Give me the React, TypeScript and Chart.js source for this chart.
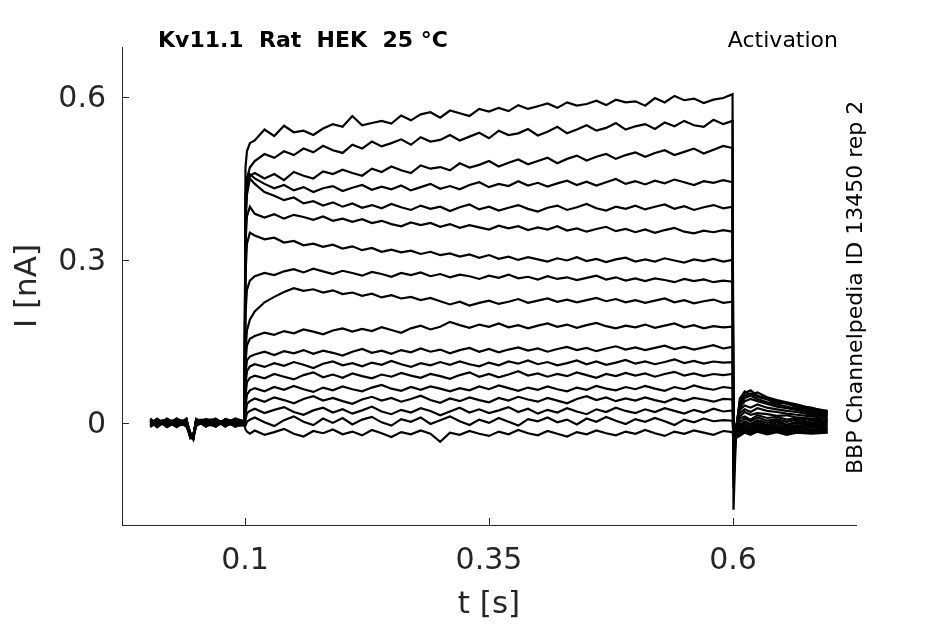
import React, { useEffect, useRef } from "react";
import { Chart, registerables } from "chart.js";

Chart.register(...registerables);

// ---- axis / text content ----
const X_TICKS = [0.1, 0.35, 0.6];
const X_TICK_LABELS = ["0.1", "0.35", "0.6"];
const Y_TICKS = [0, 0.3, 0.6];
const Y_TICK_LABELS = ["0", "0.3", "0.6"];
const X_MIN = -0.026;
const X_MAX = 0.726;
const Y_MIN = -0.188;
const Y_MAX = 0.692;
const TITLE = "Kv11.1  Rat  HEK  25 °C";
const PROTOCOL = "Activation";
const SOURCE = "BBP Channelpedia ID 13450 rep 2";
const X_LABEL = "t [s]";
const Y_LABEL = "I [nA]";

// ---- time bases (s) ----
const T_PRE = [0.003, 0.01, 0.02, 0.03, 0.04, 0.044, 0.047, 0.05, 0.06, 0.07, 0.08, 0.09, 0.0995];
const T_STEP = [
  0.1005, 0.102, 0.105,
  0.11, 0.12, 0.13, 0.14, 0.15, 0.16, 0.17, 0.18, 0.19, 0.2,
  0.21, 0.22, 0.23, 0.24, 0.25, 0.26, 0.27, 0.28, 0.29, 0.3,
  0.31, 0.32, 0.33, 0.34, 0.35, 0.36, 0.37, 0.38, 0.39, 0.4,
  0.41, 0.42, 0.43, 0.44, 0.45, 0.46, 0.47, 0.48, 0.49, 0.5,
  0.51, 0.52, 0.53, 0.54, 0.55, 0.56, 0.57, 0.58, 0.59,
  0.5995,
];
const T_TAIL = [0.6005, 0.603, 0.607, 0.612, 0.618, 0.625, 0.635, 0.645, 0.655, 0.665, 0.68, 0.697];

// ---- currents (nA), one row per sweep ----
const PRE_TRACES = [
  [0.004, -0.006, 0.007, -0.003, 0.005, -0.02, -0.028, 0.006, -0.004, 0.008, -0.005, 0.006, 0.002],
  [-0.005, 0.006, -0.004, 0.008, -0.006, -0.025, -0.022, -0.003, 0.007, -0.006, 0.004, -0.007, -0.001],
  [0.007, -0.002, 0.005, -0.007, 0.003, -0.018, -0.03, 0.004, -0.006, 0.005, -0.003, 0.008, 0.003],
  [-0.002, 0.008, -0.006, 0.004, -0.004, -0.027, -0.024, 0.002, 0.005, -0.007, 0.007, -0.003, 0.0],
  [0.006, -0.004, 0.003, -0.008, 0.007, -0.021, -0.026, -0.005, 0.003, 0.006, -0.006, 0.004, -0.002],
  [-0.007, 0.003, -0.005, 0.006, -0.002, -0.023, -0.029, 0.007, -0.002, -0.004, 0.005, -0.006, 0.004],
  [0.002, -0.007, 0.008, -0.002, 0.004, -0.026, -0.021, -0.002, 0.006, -0.005, 0.002, 0.007, -0.003],
  [-0.004, 0.005, -0.003, 0.007, -0.007, -0.019, -0.027, 0.005, -0.007, 0.007, -0.004, -0.002, 0.005],
  [0.008, -0.003, 0.004, -0.005, 0.002, -0.024, -0.025, 0.003, 0.004, -0.003, 0.006, -0.005, -0.004],
  [-0.003, 0.007, -0.007, 0.003, -0.005, -0.022, -0.03, -0.004, 0.002, 0.004, -0.007, 0.005, 0.001],
  [0.005, -0.005, 0.006, -0.006, 0.006, -0.028, -0.023, 0.006, -0.005, -0.002, 0.003, -0.004, 0.003],
  [-0.006, 0.004, -0.002, 0.005, -0.003, -0.02, -0.026, -0.006, 0.007, 0.003, -0.005, 0.007, -0.005],
  [0.003, -0.008, 0.005, -0.004, 0.008, -0.025, -0.028, 0.004, -0.003, -0.006, 0.006, -0.002, 0.002],
  [-0.008, 0.002, -0.006, 0.008, -0.001, -0.022, -0.024, -0.001, 0.005, 0.007, -0.003, 0.003, -0.003],
  [0.006, -0.002, 0.003, -0.003, 0.004, -0.027, -0.03, 0.007, -0.006, 0.002, 0.004, -0.006, 0.004],
  [-0.001, 0.006, -0.008, 0.002, -0.006, -0.019, -0.022, -0.004, 0.003, -0.007, 0.007, 0.002, -0.002],
  [0.005, -0.004, 0.002, 0.006, 0.003, -0.024, -0.027, 0.002, -0.004, 0.005, -0.006, 0.006, 0.001],
  [-0.004, 0.003, 0.006, -0.005, -0.003, -0.026, -0.025, 0.005, 0.006, -0.004, 0.002, -0.005, -0.004],
];

const STEP_TRACES = [
  [0.47, 0.5, 0.515,
   0.52, 0.54, 0.528, 0.547, 0.535, 0.538, 0.53, 0.542, 0.55, 0.545,
   0.565, 0.548, 0.552, 0.556, 0.551, 0.566, 0.557, 0.568, 0.572, 0.562,
   0.575, 0.57, 0.565, 0.578, 0.573, 0.58, 0.574, 0.585, 0.578, 0.583,
   0.588, 0.58, 0.59, 0.584, 0.587, 0.593, 0.585, 0.595, 0.59, 0.592,
   0.584, 0.598, 0.59, 0.602, 0.594, 0.597, 0.589, 0.595, 0.598,
   0.605],
  [0.42, 0.45, 0.47,
   0.482, 0.495, 0.488, 0.5, 0.493, 0.505, 0.498, 0.51, 0.502, 0.497,
   0.512, 0.505, 0.518, 0.509, 0.515, 0.522, 0.512, 0.526, 0.518, 0.521,
   0.53, 0.52, 0.527, 0.534, 0.524, 0.538, 0.53, 0.533, 0.541, 0.529,
   0.536, 0.545, 0.533, 0.54, 0.548, 0.538, 0.543, 0.552, 0.54, 0.546,
   0.55, 0.541, 0.553, 0.546, 0.556, 0.548, 0.545, 0.558, 0.55,
   0.556],
  [0.4, 0.44, 0.455,
   0.46, 0.45, 0.458, 0.447, 0.462, 0.455, 0.45, 0.463, 0.458, 0.466,
   0.46, 0.455, 0.468, 0.462, 0.472, 0.465, 0.46, 0.474, 0.468, 0.471,
   0.465, 0.478, 0.47, 0.475, 0.482, 0.472, 0.479, 0.485, 0.476, 0.482,
   0.488, 0.478, 0.486, 0.492, 0.483, 0.49, 0.495, 0.486, 0.493, 0.498,
   0.49, 0.497, 0.502, 0.493, 0.499, 0.505, 0.496, 0.503, 0.51,
   0.506],
  [0.38, 0.43, 0.458,
   0.45, 0.44, 0.432, 0.438, 0.428, 0.434, 0.425, 0.432, 0.436, 0.427,
   0.433, 0.438, 0.429, 0.435, 0.43, 0.437, 0.428, 0.434, 0.44, 0.431,
   0.436, 0.43, 0.438, 0.443, 0.434, 0.44, 0.436, 0.445, 0.437, 0.442,
   0.435, 0.441, 0.446, 0.438, 0.444, 0.437, 0.443, 0.449, 0.44, 0.445,
   0.439, 0.446, 0.441, 0.448, 0.443, 0.438, 0.445, 0.442, 0.447,
   0.443],
  [0.36, 0.42, 0.45,
   0.44, 0.425, 0.418, 0.41, 0.415, 0.404, 0.408, 0.4, 0.406, 0.398,
   0.404, 0.396, 0.401, 0.395, 0.403, 0.397, 0.392, 0.4, 0.394, 0.398,
   0.39, 0.397, 0.402, 0.393, 0.398, 0.391, 0.396, 0.401, 0.394, 0.389,
   0.396, 0.4, 0.392, 0.397, 0.403, 0.395, 0.391, 0.398, 0.394, 0.4,
   0.393, 0.398, 0.402, 0.394, 0.399, 0.392, 0.397, 0.401, 0.395,
   0.398],
  [0.33, 0.38, 0.398,
   0.385, 0.378, 0.384, 0.376, 0.383, 0.379, 0.374, 0.38, 0.372, 0.376,
   0.37, 0.375, 0.368, 0.372, 0.366, 0.362, 0.369, 0.364, 0.368, 0.361,
   0.366, 0.359, 0.364, 0.36, 0.356, 0.363, 0.358, 0.362, 0.355, 0.36,
   0.356, 0.362, 0.354, 0.358, 0.352, 0.357, 0.361, 0.353, 0.357, 0.351,
   0.356, 0.35, 0.355, 0.359, 0.352, 0.349, 0.354, 0.351, 0.355,
   0.352],
  [0.27, 0.33, 0.35,
   0.345, 0.338, 0.341, 0.332, 0.335, 0.327, 0.33, 0.324, 0.328, 0.321,
   0.325, 0.318, 0.322, 0.315, 0.319, 0.314, 0.317, 0.311, 0.315, 0.309,
   0.312, 0.306, 0.31, 0.304, 0.309, 0.302, 0.306, 0.3, 0.305, 0.301,
   0.297, 0.303, 0.299, 0.305, 0.298, 0.302, 0.296, 0.301, 0.304, 0.297,
   0.301, 0.297, 0.303, 0.299, 0.295, 0.301, 0.298, 0.302, 0.297,
   0.3],
  [0.2, 0.245, 0.262,
   0.27, 0.276, 0.272, 0.279, 0.283, 0.277, 0.284, 0.279, 0.274, 0.28,
   0.276, 0.271, 0.278, 0.274, 0.269, 0.276, 0.272, 0.277, 0.27, 0.274,
   0.268, 0.273, 0.27, 0.265, 0.271, 0.267, 0.273, 0.266, 0.269, 0.264,
   0.27, 0.265, 0.268, 0.263, 0.267, 0.271, 0.264, 0.268, 0.262, 0.266,
   0.261, 0.266, 0.263, 0.259, 0.265, 0.261, 0.264, 0.259, 0.262,
   0.26],
  [0.13, 0.17, 0.19,
   0.205, 0.222, 0.232, 0.241, 0.248, 0.243, 0.246, 0.24, 0.244, 0.237,
   0.24, 0.234, 0.238, 0.231, 0.235, 0.229, 0.232, 0.226, 0.23, 0.224,
   0.218, 0.223, 0.216, 0.221, 0.225, 0.219, 0.223, 0.228, 0.221, 0.225,
   0.229, 0.223, 0.227, 0.222, 0.226, 0.23, 0.224, 0.228, 0.222, 0.226,
   0.221, 0.225, 0.229, 0.222, 0.226, 0.22, 0.224, 0.227, 0.221,
   0.223],
  [0.11, 0.143, 0.155,
   0.16, 0.166, 0.162, 0.169, 0.165, 0.172, 0.168, 0.163, 0.17, 0.174,
   0.168, 0.173, 0.169, 0.176, 0.171, 0.166, 0.174, 0.179, 0.172, 0.177,
   0.186, 0.18, 0.175, 0.181, 0.177, 0.183, 0.176, 0.18, 0.174, 0.179,
   0.183, 0.177, 0.181, 0.175, 0.18, 0.184, 0.178, 0.174, 0.179, 0.176,
   0.181, 0.175, 0.179, 0.183, 0.176, 0.18, 0.174, 0.178, 0.176,
   0.177],
  [0.09, 0.115, 0.122,
   0.126, 0.131, 0.125, 0.132, 0.128, 0.134, 0.127, 0.133, 0.129, 0.124,
   0.131, 0.136, 0.129, 0.133, 0.127, 0.134, 0.13, 0.137, 0.131, 0.135,
   0.128, 0.134, 0.138, 0.131, 0.136, 0.13, 0.135, 0.139, 0.133, 0.137,
   0.131, 0.136, 0.14, 0.134, 0.138, 0.132, 0.137, 0.141, 0.135, 0.139,
   0.134, 0.138, 0.142, 0.136, 0.14, 0.135, 0.139, 0.143, 0.137,
   0.14],
  [0.07, 0.095, 0.104,
   0.108, 0.103, 0.11, 0.105, 0.112, 0.107, 0.101, 0.109, 0.113, 0.106,
   0.11, 0.104, 0.111, 0.107, 0.114, 0.108, 0.103, 0.11, 0.106, 0.112,
   0.107, 0.113, 0.108, 0.104, 0.111, 0.106, 0.113, 0.109, 0.115, 0.108,
   0.112, 0.106, 0.11, 0.115, 0.108, 0.113, 0.107, 0.111, 0.116, 0.109,
   0.113, 0.108, 0.112, 0.117, 0.11, 0.114, 0.109, 0.113, 0.111,
   0.112],
  [0.05, 0.075, 0.083,
   0.087, 0.082, 0.09, 0.085, 0.08, 0.088, 0.093, 0.084, 0.089, 0.083,
   0.091, 0.086, 0.082, 0.089, 0.085, 0.092, 0.087, 0.083, 0.09, 0.086,
   0.081, 0.088, 0.093, 0.085, 0.09, 0.084, 0.089, 0.095, 0.087, 0.091,
   0.085, 0.09, 0.086, 0.093, 0.088, 0.083, 0.09, 0.086, 0.092, 0.087,
   0.091, 0.085, 0.09, 0.094, 0.087, 0.091, 0.086, 0.09, 0.088,
   0.09],
  [0.03, 0.052, 0.06,
   0.064, 0.058, 0.066, 0.061, 0.068, 0.062, 0.057, 0.065, 0.06, 0.067,
   0.062, 0.058, 0.065, 0.07, 0.063, 0.059, 0.066, 0.061, 0.067, 0.063,
   0.058, 0.064, 0.06, 0.067, 0.062, 0.069, 0.064, 0.059, 0.065, 0.061,
   0.067, 0.062, 0.058, 0.065, 0.061, 0.068, 0.063, 0.06, 0.066, 0.062,
   0.068, 0.063, 0.059, 0.066, 0.062, 0.069, 0.064, 0.061, 0.066,
   0.064],
  [0.015, 0.035, 0.04,
   0.045, 0.039, 0.047, 0.042, 0.036, 0.044, 0.049, 0.041, 0.046, 0.04,
   0.035, 0.043, 0.048, 0.041, 0.046, 0.039, 0.044, 0.05, 0.042, 0.037,
   0.045, 0.04, 0.047, 0.042, 0.038, 0.046, 0.041, 0.048, 0.043, 0.039,
   0.046, 0.041, 0.036, 0.044, 0.049, 0.042, 0.047, 0.04, 0.045, 0.041,
   0.047, 0.042, 0.038, 0.045, 0.04, 0.046, 0.043, 0.039, 0.044,
   0.043],
  [0.005, 0.018, 0.022,
   0.026, 0.018, 0.024, 0.029, 0.02, 0.015, 0.023, 0.028, 0.019, 0.025,
   0.017, 0.023, 0.03, 0.021, 0.016, 0.024, 0.019, 0.027, 0.022, 0.014,
   0.021, 0.028, 0.019, 0.025, 0.018, 0.023, 0.029, 0.02, 0.026, 0.017,
   0.024, 0.019, 0.027, 0.021, 0.016, 0.025, 0.02, 0.028, 0.022, 0.018,
   0.025, 0.02, 0.027, 0.022, 0.017, 0.024, 0.019, 0.026, 0.021,
   0.023],
  [-0.005, 0.002, 0.006,
   0.01, 0.001, -0.006, 0.005, 0.012, 0.002, -0.004, 0.008, 0.0, 0.009,
   -0.003, 0.006, 0.011, 0.001, -0.005, 0.007, 0.002, 0.01, -0.002, 0.005,
   0.012, 0.003, -0.004, 0.006, 0.0, 0.009, 0.002, -0.005, 0.007, 0.003,
   0.01, 0.001, 0.006, -0.003, 0.008, 0.002, 0.011, 0.004, -0.002, 0.007,
   0.002, 0.009, 0.003, -0.004, 0.006, 0.001, 0.008, 0.003, 0.005,
   0.004],
  [-0.012, -0.016, -0.02,
   -0.014, -0.022, -0.017, -0.011, -0.02, -0.025, -0.015, -0.019, -0.012, -0.021,
   -0.016, -0.023, -0.013, -0.019, -0.026, -0.017, -0.021, -0.014, -0.02, -0.035,
   -0.018, -0.022, -0.015, -0.02, -0.024, -0.016, -0.021, -0.013, -0.019, -0.023,
   -0.015, -0.02, -0.025, -0.017, -0.021, -0.014, -0.019, -0.023, -0.016, -0.02,
   -0.013, -0.019, -0.024, -0.016, -0.02, -0.014, -0.018, -0.022, -0.015,
   -0.017],
];

const TAIL_TRACES = [
  [-0.16, -0.02, 0.045, 0.058, 0.052, 0.056, 0.047, 0.042, 0.038, 0.034, 0.027, 0.022],
  [-0.12, -0.015, 0.04, 0.055, 0.06, 0.05, 0.045, 0.04, 0.035, 0.031, 0.028, 0.02],
  [-0.1, -0.01, 0.038, 0.05, 0.054, 0.048, 0.043, 0.036, 0.037, 0.029, 0.024, 0.019],
  [-0.09, -0.012, 0.033, 0.046, 0.05, 0.044, 0.038, 0.034, 0.03, 0.026, 0.021, 0.016],
  [-0.08, -0.01, 0.028, 0.04, 0.044, 0.04, 0.035, 0.03, 0.027, 0.024, 0.018, 0.014],
  [-0.075, -0.008, 0.024, 0.032, 0.028, 0.034, 0.028, 0.025, 0.022, 0.02, 0.015, 0.012],
  [-0.07, -0.01, 0.018, 0.025, 0.02, 0.027, 0.022, 0.02, 0.017, 0.015, 0.012, 0.009],
  [-0.06, -0.01, 0.012, 0.02, 0.015, 0.018, 0.016, 0.013, 0.014, 0.01, 0.008, 0.006],
  [-0.055, -0.012, 0.008, 0.012, 0.006, 0.014, 0.009, 0.011, 0.006, 0.009, 0.005, 0.004],
  [-0.05, -0.015, 0.002, 0.008, 0.003, 0.01, 0.004, 0.007, 0.002, 0.006, 0.001, 0.003],
  [-0.045, -0.018, -0.004, 0.003, -0.002, 0.005, 0.0, 0.004, -0.003, 0.002, -0.001, 0.0],
  [-0.04, -0.02, -0.008, 0.0, -0.006, 0.002, -0.004, 0.001, -0.005, 0.0, -0.004, -0.003],
  [-0.04, -0.022, -0.012, -0.004, -0.009, -0.002, -0.007, -0.003, -0.008, -0.004, -0.006, -0.005],
  [-0.035, -0.024, -0.015, -0.008, -0.012, -0.005, -0.01, -0.006, -0.011, -0.007, -0.009, -0.008],
  [-0.035, -0.025, -0.018, -0.01, -0.015, -0.008, -0.013, -0.009, -0.014, -0.01, -0.012, -0.011],
  [-0.03, -0.026, -0.02, -0.013, -0.018, -0.011, -0.016, -0.012, -0.017, -0.013, -0.015, -0.013],
  [-0.03, -0.027, -0.022, -0.015, -0.02, -0.014, -0.019, -0.015, -0.02, -0.016, -0.018, -0.016],
  [-0.03, -0.028, -0.024, -0.018, -0.022, -0.016, -0.021, -0.017, -0.022, -0.018, -0.02, -0.018],
];

const AXIS_COLOR = "#262626";
const FONT = '"DejaVu Sans", sans-serif';

const decorPlugin = {
  id: "decor",
  afterDraw(chart: any) {
    const ctx = chart.ctx;
    const xs = chart.scales.x;
    const ys = chart.scales.y;
    const a = chart.chartArea;
    ctx.save();
    ctx.strokeStyle = AXIS_COLOR;
    ctx.lineWidth = 1;
    X_TICKS.forEach((v) => {
      const px = Math.round(xs.getPixelForValue(v)) + 0.5;
      ctx.beginPath();
      ctx.moveTo(px, a.bottom);
      ctx.lineTo(px, a.bottom - 7);
      ctx.stroke();
    });
    Y_TICKS.forEach((v) => {
      const py = Math.round(ys.getPixelForValue(v)) + 0.5;
      ctx.beginPath();
      ctx.moveTo(a.left, py);
      ctx.lineTo(a.left + 7, py);
      ctx.stroke();
    });
    ctx.fillStyle = AXIS_COLOR;
    ctx.font = `30px ${FONT}`;
    ctx.textBaseline = "middle";
    ctx.textAlign = "center";
    X_TICKS.forEach((v, i) => {
      ctx.fillText(X_TICK_LABELS[i], xs.getPixelForValue(v), a.bottom + 36);
    });
    ctx.textAlign = "right";
    Y_TICKS.forEach((v, i) => {
      ctx.fillText(Y_TICK_LABELS[i], a.left - 16, ys.getPixelForValue(v) + 2);
    });
    ctx.font = `31px ${FONT}`;
    ctx.textAlign = "center";
    ctx.fillText(X_LABEL, (a.left + a.right) / 2, a.bottom + 80);
    ctx.save();
    ctx.translate(28, (a.top + a.bottom) / 2);
    ctx.rotate(-Math.PI / 2);
    ctx.fillText(Y_LABEL, 0, 0);
    ctx.restore();

    ctx.fillStyle = "#000";
    ctx.textBaseline = "alphabetic";
    ctx.textAlign = "left";
    ctx.font = `bold 22px ${FONT}`;
    ctx.fillText(TITLE, 158, 47);
    ctx.font = `22px ${FONT}`;
    ctx.textAlign = "right";
    ctx.fillText(PROTOCOL, 838, 47);
    ctx.save();
    ctx.translate(862, 474);
    ctx.rotate(-Math.PI / 2);
    ctx.textAlign = "left";
    ctx.fillText(SOURCE, 0, 0);
    ctx.restore();
    ctx.restore();
  },
};

export default function App() {
  const ref = useRef<HTMLCanvasElement | null>(null);
  useEffect(() => {
    if (!ref.current) return;
    const datasets = STEP_TRACES.map((step, k) => {
      const pts: { x: number; y: number }[] = [];
      T_PRE.forEach((t, i) => pts.push({ x: t, y: PRE_TRACES[k][i] }));
      T_STEP.forEach((t, i) => pts.push({ x: t, y: step[i] }));
      T_TAIL.forEach((t, i) => pts.push({ x: t, y: TAIL_TRACES[k][i] }));
      return {
        data: pts,
        borderColor: "#000",
        borderWidth: 2.2,
        pointRadius: 0,
        tension: 0,
        fill: false,
      };
    });
    const chart = new Chart(ref.current, {
      type: "line",
      data: { datasets },
      options: {
        animation: false,
        responsive: false,
        devicePixelRatio: 1,
        layout: { padding: { left: 122, right: 89, top: 47, bottom: 99 } },
        plugins: { legend: { display: false }, tooltip: { enabled: false } },
        scales: {
          x: {
            type: "linear",
            min: X_MIN,
            max: X_MAX,
            grid: { display: false },
            ticks: { display: false },
            border: { display: true, color: AXIS_COLOR, width: 1 },
            afterFit: (s: any) => { s.height = 0; },
          },
          y: {
            type: "linear",
            min: Y_MIN,
            max: Y_MAX,
            grid: { display: false },
            ticks: { display: false },
            border: { display: true, color: AXIS_COLOR, width: 1 },
            afterFit: (s: any) => { s.width = 0; },
          },
        },
      },
      plugins: [decorPlugin],
    });
    return () => chart.destroy();
  }, []);
  return (
    <div style={{ position: "fixed", left: 0, top: 0, width: 945, height: 624, background: "#fff" }}>
      <canvas ref={ref} width={945} height={624} style={{ width: 945, height: 624 }} />
    </div>
  );
}
